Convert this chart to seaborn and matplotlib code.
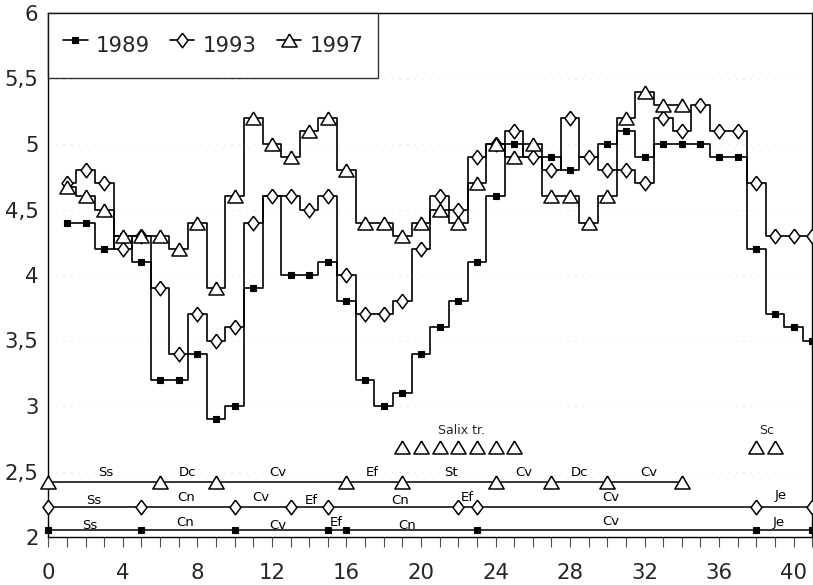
import matplotlib
matplotlib.use("Agg")
import matplotlib.pyplot as plt
from matplotlib.ticker import MultipleLocator, FuncFormatter
import pandas as pd
import seaborn as sns

# ---------------- data ----------------
years = ["1989", "1993", "1997"]

x_1989 = list(range(1, 42))
v_1989 = [4.4, 4.4, 4.2, 4.3, 4.1, 3.2, 3.2, 3.4, 2.9, 3.0,
          3.9, 4.6, 4.0, 4.0, 4.1, 3.8, 3.2, 3.0, 3.1, 3.4,
          3.6, 3.8, 4.1, 4.6, 5.0, 4.9, 4.9, 4.8, 4.9, 5.0,
          5.1, 4.9, 5.0, 5.0, 5.0, 4.9, 4.9, 4.2, 3.7, 3.6, 3.5]

x_1993 = list(range(1, 42))
v_1993 = [4.7, 4.8, 4.7, 4.2, 4.3, 3.9, 3.4, 3.7, 3.5, 3.6,
          4.4, 4.6, 4.6, 4.5, 4.6, 4.0, 3.7, 3.7, 3.8, 4.2,
          4.6, 4.5, 4.9, 5.0, 5.1, 4.9, 4.8, 5.2, 4.9, 4.8,
          4.8, 4.7, 5.2, 5.1, 5.3, 5.1, 5.1, 4.7, 4.3, 4.3, 4.3]

x_1997 = list(range(1, 35))
v_1997 = [4.67, 4.6, 4.5, 4.3, 4.3, 4.3, 4.2, 4.4, 3.9, 4.6,
          5.2, 5.0, 4.9, 5.1, 5.2, 4.8, 4.4, 4.4, 4.3, 4.4,
          4.5, 4.4, 4.7, 5.0, 4.9, 5.0, 4.6, 4.6, 4.4, 4.6,
          5.2, 5.4, 5.3, 5.3]

# vegetation-zone rows at the bottom
row_y_1997 = 2.42
row_x_1997 = [0, 6, 9, 16, 19, 24, 27, 30, 34]
lab_1997 = ["Ss", "Dc", "Cv", "Ef", "St", "Cv", "Dc", "Cv"]
labx_1997 = [3.1, 7.45, 12.3, 17.4, 21.6, 25.5, 28.5, 32.2]
laby_1997 = [2.49] * 8

row_y_1993 = 2.23
row_x_1993 = [0, 5, 10, 13, 15, 22, 23, 38, 41]
lab_1993 = ["Ss", "Cn", "Cv", "Ef", "Cn", "Ef", "Cv", "Je"]
labx_1993 = [2.45, 7.4, 11.4, 14.1, 18.9, 22.5, 30.2, 39.3]
laby_1993 = [2.28, 2.30, 2.30, 2.28, 2.28, 2.30, 2.30, 2.32]

row_y_1989 = 2.05
row_x_1989 = [0, 5, 10, 15, 16, 23, 38, 41]
lab_1989 = ["Ss", "Cn", "Cv", "Ef", "Cn", "Cv", "Je"]
labx_1989 = [2.2, 7.35, 12.3, 15.45, 19.25, 30.2, 39.2]
laby_1989 = [2.09, 2.11, 2.09, 2.11, 2.09, 2.12, 2.11]

salix_x = [19, 20, 21, 22, 23, 24, 25]
salix_y = 2.69
salix_label = "Salix tr."
salix_label_pos = (22.2, 2.81)
sc_x = [38, 39]
sc_label = "Sc"
sc_label_pos = (38.55, 2.815)

y_ticks = [2, 2.5, 3, 3.5, 4, 4.5, 5, 5.5, 6]
x_ticks = [0, 4, 8, 12, 16, 20, 24, 28, 32, 36, 40]

# ---------------- style ----------------
sns.set_theme(style="ticks")
plt.rcParams["font.family"] = ["DejaVu Sans"]

DIAMOND = [(0, 1), (0.75, 0), (0, -1), (-0.75, 0), (0, 1)]
TRIANGLE = [(0, 0.85), (1, -0.85), (-1, -0.85), (0, 0.85)]

fig = plt.figure(figsize=(8.13, 5.85), dpi=100)
ax = fig.add_axes([48.3 / 813, 1 - 537 / 585, (812.3 - 48.3) / 813, (537 - 13) / 585])

style = {
    "1989": dict(marker="s", markersize=4.5, markerfacecolor="black",
                 markeredgecolor="black", markeredgewidth=0.8),
    "1993": dict(marker=DIAMOND, markersize=10.5, markerfacecolor="white",
                 markeredgecolor="black", markeredgewidth=1.1),
    "1997": dict(marker=TRIANGLE, markersize=11, markerfacecolor="white",
                 markeredgecolor="black", markeredgewidth=1.1),
}
series = {"1989": (x_1989, v_1989), "1993": (x_1993, v_1993), "1997": (x_1997, v_1997)}

for yr in years:
    xs, vs = series[yr]
    df = pd.DataFrame({"x": xs, "v": vs})
    sns.lineplot(data=df, x="x", y="v", ax=ax, color="black", linewidth=1.2,
                 drawstyle="steps-mid", label=yr, clip_on=False,
                 zorder=3, **style[yr])

# zone rows
rows = [("1997", row_x_1997, row_y_1997), ("1993", row_x_1993, row_y_1993),
        ("1989", row_x_1989, row_y_1989)]
for yr, rx, ry in rows:
    ax.plot([min(rx), max(rx)], [ry, ry], color="black", lw=1.1, zorder=2, clip_on=False)
    ax.plot(rx, [ry] * len(rx), linestyle="none", clip_on=False, zorder=3, **style[yr])

for labs, lx, ly in [(lab_1997, labx_1997, laby_1997), (lab_1993, labx_1993, laby_1993),
                     (lab_1989, labx_1989, laby_1989)]:
    for t, xx, yy in zip(labs, lx, ly):
        ax.text(xx, yy, t, fontsize=9.5, ha="center", va="center", color="black")

ax.plot(salix_x, [salix_y] * len(salix_x), linestyle="none", zorder=3, **style["1997"])
ax.plot(sc_x, [salix_y] * len(sc_x), linestyle="none", zorder=3, **style["1997"])
ax.text(*salix_label_pos, salix_label, fontsize=9, ha="center", va="center")
ax.text(*sc_label_pos, sc_label, fontsize=9, ha="center", va="center")

# axes
ax.set_xlim(0, 41)
ax.set_ylim(2, 6)
ax.set_xlabel("")
ax.set_ylabel("")
ax.set_xticks(x_ticks)
ax.xaxis.set_minor_locator(MultipleLocator(1))
ax.set_yticks(y_ticks)
ax.yaxis.set_major_formatter(FuncFormatter(lambda v, p: f"{v:g}".replace(".", ",")))
ax.tick_params(axis="x", which="both", direction="out", length=7, width=0.8,
               color="0.3", labelsize=15.3, pad=12)
ax.tick_params(axis="y", which="both", length=0, labelsize=15.3, pad=7)
for s in ax.spines.values():
    s.set_visible(True)
    s.set_color("black")
    s.set_linewidth(1.0)
ax.yaxis.grid(True, linestyle=(0, (1, 10)), color="0.75", linewidth=0.5)
ax.set_axisbelow(True)

handles, labels = ax.get_legend_handles_labels()
leg = ax.legend(handles[:3], labels[:3], loc="upper left", ncol=3, frameon=True,
                fancybox=False, borderaxespad=0, fontsize=15.3, handlelength=1.15,
                handleheight=2.2, handletextpad=0.38, columnspacing=0.95,
                borderpad=0.7)
leg.get_frame().set_edgecolor("black")
leg.get_frame().set_linewidth(1.0)

fig.savefig("out.png", dpi=100)
